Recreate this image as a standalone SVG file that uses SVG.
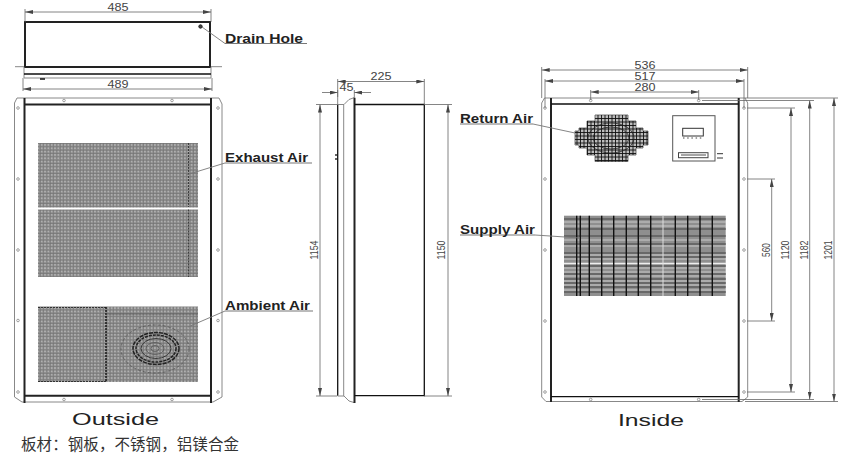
<svg xmlns="http://www.w3.org/2000/svg" width="849" height="455" viewBox="0 0 849 455">
<style>
.th{fill:none;stroke:#222;stroke-width:2}
.bk{fill:none;stroke:#111;stroke-width:1.3}
.gr{fill:none;stroke:#888;stroke-width:1}
.dm{fill:none;stroke:#666;stroke-width:.8}
.ld{fill:none;stroke:#777;stroke-width:.9}
.ul{fill:none;stroke:#777;stroke-width:1.2}
.hole{fill:#fff;stroke:#888;stroke-width:.8}
.lb{font-family:"Liberation Sans",Arial,sans-serif;font-size:13.5px;font-weight:bold;fill:#222}
.dt{font-family:"Liberation Sans",Arial,sans-serif;font-size:10.500px;fill:#444;text-anchor:middle}
.big{font-family:"Liberation Sans",Arial,sans-serif;font-size:17px;fill:#222}
.cn{font-family:"Liberation Sans","Noto Sans CJK SC",sans-serif;font-size:15.5px;fill:#333}
.grid{stroke:#111;stroke-width:.9;fill:none}
.sd{stroke:#d8d8d8;stroke-width:.8}
.sv{stroke:#111;stroke-width:1.4}
.fan{fill:none;stroke:#222;stroke-width:.8}
</style>
<defs>
<marker id="a" viewBox="0 0 8 4" refX="8" refY="2" markerWidth="8" markerHeight="4" orient="auto-start-reverse" markerUnits="userSpaceOnUse"><path d="M0 0L8 2L0 4Z" fill="#444"/></marker>
<pattern id="mesh" width="3.33" height="3.33" patternUnits="userSpaceOnUse"><rect width="3.33" height="3.33" fill="#8e8e8e"/><rect x="1.100" y="1.100" width="1.200" height="1.200" fill="#cfcfcf"/><path d="M0 0H3.33M0 0V3.33" stroke="#6c6c6c" stroke-width=".8"/></pattern>
<clipPath id="rc"><path d="M595 115H628V121H636V128H643V131H648V145H643V148H636V155H628V161.500H595V155H587V148H579V145H575V131H579V128H587V121H595Z"/></clipPath>
</defs>

<g id="top-view">
<path class="gr" d="M15 66.700H222"/>
<rect class="th" x="25" y="22" width="185" height="45"/>
<path class="gr" d="M24 67V78H211V67"/>
<path class="bk" d="M24 74H211M40 79H45"/>
<circle cx="200.500" cy="26.500" r="1.700" fill="#444" stroke="#222" stroke-width="1"/>
</g>

<g id="outside-view">
<path class="gr" d="M24 98H17L14.500 103V397L22 402H24M212 98H219L222 104V397L213 402H212M24 98H212M24 402H212"/>
<path class="th" d="M24.500 98V403M211 98V403"/>
<path class="th" d="M24.500 104.500H211M24.500 395.700H211"/>
<g class="hole"><circle cx="64" cy="100.500" r="1.300"/><circle cx="172" cy="100.500" r="1.300"/><circle cx="64" cy="399.500" r="1.300"/><circle cx="172" cy="399.500" r="1.300"/><circle cx="18" cy="108" r="1.300"/><circle cx="18" cy="179" r="1.300"/><circle cx="18" cy="250" r="1.300"/><circle cx="18" cy="320.500" r="1.300"/><circle cx="18" cy="392" r="1.300"/><circle cx="218" cy="108" r="1.300"/><circle cx="218" cy="179" r="1.300"/><circle cx="218" cy="250" r="1.300"/><circle cx="218" cy="320.500" r="1.300"/><circle cx="218" cy="392" r="1.300"/></g>
<rect x="38" y="143" width="160" height="64.500" fill="url(#mesh)"/>
<rect x="38" y="209.500" width="160" height="67.500" fill="url(#mesh)"/>
<rect x="38" y="306.500" width="160" height="75.500" fill="url(#mesh)"/>
<path d="M188.500 143V207M188.500 209.500V277" stroke="#333" stroke-width=".9" stroke-dasharray="2 1" fill="none"/>
<path d="M38 307.500H106M38 381.500H106" stroke="#333" stroke-width="1" stroke-dasharray="2 1" fill="none"/>
<path d="M106 307V382" stroke="#111" stroke-width="1.400" stroke-dasharray="2 1" fill="none"/>
<path d="M106 314H198" stroke="#555" stroke-width=".7" fill="none"/>
<g class="fan">
<ellipse cx="155" cy="349" rx="34" ry="24" stroke-dasharray="3 2" stroke="#555"/>
<ellipse cx="156" cy="348.500" rx="23" ry="16" stroke-width="1.500" stroke-dasharray="4 1"/>
<ellipse cx="156" cy="348.500" rx="20" ry="13.500" stroke-width="1.500" stroke-dasharray="3 1"/>
<ellipse cx="156" cy="348.500" rx="15" ry="10"/>
<ellipse cx="155" cy="348.500" rx="9" ry="6" stroke="#555"/>
<ellipse cx="155" cy="348.500" rx="4" ry="3" stroke="#555"/>
</g>
</g>

<g id="side-view">
<path class="bk" d="M337.700 104.500V395.700"/>
<path class="gr" d="M337.700 104.500H344L349 99.500L354 97.700M337.700 396H344L349 401L354 402.500M343.700 104.500V396" stroke-width="1.200"/>
<path class="th" d="M354.500 97.700V403"/>
<path class="bk" d="M354.500 104.500H424.300V395.700H354.500"/>
<path class="bk" d="M336 154V156M336 158V160"/>
</g>

<g id="inside-view">
<path class="gr" d="M551 98H544.500L541.700 103V397L546 401.500H551M551 98H739M551 401.500H739M739 98H745L747.700 103V397L742 401.500H739"/>
<path class="th" d="M551 98V402M738.700 98V402"/>
<path class="bk" d="M551 104H738.700M551 396.700H738.700"/>
<g class="hole"><circle cx="590.700" cy="100.500" r="1.300"/><circle cx="698.700" cy="100.500" r="1.300"/><circle cx="590.700" cy="399.500" r="1.300"/><circle cx="698.700" cy="399.500" r="1.300"/><circle cx="545" cy="108" r="1.300"/><circle cx="545" cy="179" r="1.300"/><circle cx="545" cy="250" r="1.300"/><circle cx="545" cy="321" r="1.300"/><circle cx="545" cy="392" r="1.300"/><circle cx="744" cy="108" r="1.300"/><circle cx="744" cy="179" r="1.300"/><circle cx="744" cy="250" r="1.300"/><circle cx="744" cy="321" r="1.300"/><circle cx="744" cy="392" r="1.300"/></g>
<path d="M595 115H628V121H636V128H643V131H648V145H643V148H636V155H628V161.500H595V155H587V148H579V145H575V131H579V128H587V121H595Z" fill="#bdbdbd" stroke="#666" stroke-width=".9"/>
<g clip-path="url(#rc)">
<path class="grid" d="M575 118.500H648M575 122H648M575 125.500H648M575 129H648M575 132.500H648M575 136H648M575 139.500H648M575 143H648M575 146.500H648M575 150H648M575 153.500H648M575 157H648M575 160.500H648"/>
<path class="grid" d="M577 115V162M580.500 115V162M584 115V162M587.500 115V162M591 115V162M594.500 115V162M598 115V162M601.500 115V162M605 115V162M608.500 115V162M612 115V162M615.500 115V162M619 115V162M622.500 115V162M626 115V162M629.500 115V162M633 115V162M636.500 115V162M640 115V162M643.500 115V162M647 115V162"/>
</g>
<ellipse class="fan" cx="611" cy="138" rx="23" ry="15" stroke-width="1.700"/>
<ellipse class="fan" cx="611" cy="138" rx="18" ry="11" stroke-width="1.200"/>
<rect x="672.700" y="115.700" width="42.300" height="45.300" fill="#fff" stroke="#555" stroke-width="1"/>
<rect x="682.700" y="128.300" width="20.600" height="7.700" fill="#fff" stroke="#333" stroke-width="1"/>
<path d="M683 138H703" stroke="#444" stroke-width="1" stroke-dasharray="1.500 2.700"/>
<rect x="678.500" y="152.700" width="29.500" height="5" fill="#fff" stroke="#444" stroke-width="1"/>
<path d="M681 155H706" stroke="#888" stroke-width="1.500"/>
<path d="M717 153.700H723M717 158H723" stroke="#333" stroke-width="1"/>
<rect x="564" y="215.700" width="161.700" height="80.300" fill="#8f8f8f"/>
<path class="sd" d="M564 222H726M564 226H726M564 240H726M564 246H726M564 255H726M564 259H726M564 268H726M564 272H726M564 276H726M564 281H726M564 285H726M564 290H726"/>
<path d="M564 263.500H726" stroke="#eee" stroke-width="1.500"/>
<path d="M564 219H726M564 229H726M564 236H726M564 244H726M564 253H726M564 257H726M564 266H726M564 274H726M564 279H726M564 283H726M564 287H726M564 292H726" stroke="#222" stroke-width=".7"/>
<path class="sv" d="M576.700 215.700V296M580.300 215.700V296M589.300 215.700V296M601.700 215.700V296M613.700 215.700V296M626.300 215.700V296M638.300 215.700V296M650.700 215.700V296M675.300 215.700V296M687.700 215.700V296M700 215.700V296M712.300 215.700V296"/>
<path d="M663 215.700V296" stroke="#ddd" stroke-width="1"/>
</g>

<g id="connectors">
<path class="dm" d="M25 9V22M211 9V22M23 78V91M212 78V91"/>
<path class="dm" marker-start="url(#a)" marker-end="url(#a)" d="M25 12H211"/>
<path class="dm" marker-start="url(#a)" marker-end="url(#a)" d="M23 89H212"/>
<path class="dm" d="M316 104.500H337M316 396H337M424 104.500H452M424 396H452M337.700 79V105M424.300 79V105M337.700 90V97M354.300 90V98"/>
<path class="dm" marker-start="url(#a)" marker-end="url(#a)" d="M320 104.500V396"/>
<path class="dm" marker-start="url(#a)" marker-end="url(#a)" d="M448 104.500V396"/>
<path class="dm" marker-start="url(#a)" marker-end="url(#a)" d="M337.700 81.500H424.300"/>
<path class="dm" marker-end="url(#a)" d="M322 92.500H337.700"/>
<path class="dm" marker-end="url(#a)" d="M371 92.500H354.300"/>
<path class="dm" d="M541.700 67V98M747.700 67V98M545 79V108M744 79V108M590.700 90V100M698.700 90V100"/>
<path class="dm" marker-start="url(#a)" marker-end="url(#a)" d="M541.700 70H747.700"/>
<path class="dm" marker-start="url(#a)" marker-end="url(#a)" d="M545 81H744"/>
<path class="dm" marker-start="url(#a)" marker-end="url(#a)" d="M590.700 92H698.700"/>
<path class="dm" d="M745 98H838M745 401.500H838M702 100.500H814M702 399.500H814M747 108H795M747 392H795M747 179H775M747 321H775"/>
<path class="dm" marker-start="url(#a)" marker-end="url(#a)" d="M834 98V401.500"/>
<path class="dm" marker-start="url(#a)" marker-end="url(#a)" d="M809.700 100.500V399.500"/>
<path class="dm" marker-start="url(#a)" marker-end="url(#a)" d="M791 108V392"/>
<path class="dm" marker-start="url(#a)" marker-end="url(#a)" d="M771.700 179V321"/>
<path class="ld" d="M225 43.500L202 27M225 163L186 175M225 311L188 327M533 124L575 133M535 235L580 238"/>
<path class="ul" d="M225 43.500H307M225 163H312M225 311H313M460 124H533M460 235H535"/>
</g>

<g id="labels">
<text class="lb" x="225" y="42.500" textLength="78" lengthAdjust="spacingAndGlyphs">Drain Hole</text>
<text class="lb" x="225" y="162" textLength="83" lengthAdjust="spacingAndGlyphs">Exhaust Air</text>
<text class="lb" x="225" y="310" textLength="85" lengthAdjust="spacingAndGlyphs">Ambient Air</text>
<text class="lb" x="460" y="123" textLength="73" lengthAdjust="spacingAndGlyphs">Return Air</text>
<text class="lb" x="460" y="234" textLength="75" lengthAdjust="spacingAndGlyphs">Supply Air</text>
<text class="big" x="72" y="425" textLength="87" lengthAdjust="spacingAndGlyphs">Outside</text>
<text class="big" x="618" y="425.500" textLength="66" lengthAdjust="spacingAndGlyphs">Inside</text>
<text class="cn" x="21" y="450" textLength="218">板材：钢板，不锈钢，铝镁合金</text>
<text class="dt" x="118" y="11" textLength="21" lengthAdjust="spacingAndGlyphs">485</text>
<text class="dt" x="118" y="88" textLength="21" lengthAdjust="spacingAndGlyphs">489</text>
<text class="dt" x="381" y="80" textLength="21" lengthAdjust="spacingAndGlyphs">225</text>
<text class="dt" x="346.500" y="91" textLength="14" lengthAdjust="spacingAndGlyphs">45</text>
<text class="dt" x="645" y="69" textLength="21" lengthAdjust="spacingAndGlyphs">536</text>
<text class="dt" x="645" y="80" textLength="21" lengthAdjust="spacingAndGlyphs">517</text>
<text class="dt" x="645" y="91" textLength="21" lengthAdjust="spacingAndGlyphs">280</text>
<text class="dt" transform="translate(318 250) rotate(-90)" textLength="19" lengthAdjust="spacingAndGlyphs">1154</text>
<text class="dt" transform="translate(445 250) rotate(-90)" textLength="19" lengthAdjust="spacingAndGlyphs">1150</text>
<text class="dt" transform="translate(770 250) rotate(-90)" textLength="14" lengthAdjust="spacingAndGlyphs">560</text>
<text class="dt" transform="translate(789 250) rotate(-90)" textLength="19" lengthAdjust="spacingAndGlyphs">1120</text>
<text class="dt" transform="translate(808 250) rotate(-90)" textLength="19" lengthAdjust="spacingAndGlyphs">1182</text>
<text class="dt" transform="translate(832 250) rotate(-90)" textLength="19" lengthAdjust="spacingAndGlyphs">1201</text>
</g>
</svg>
